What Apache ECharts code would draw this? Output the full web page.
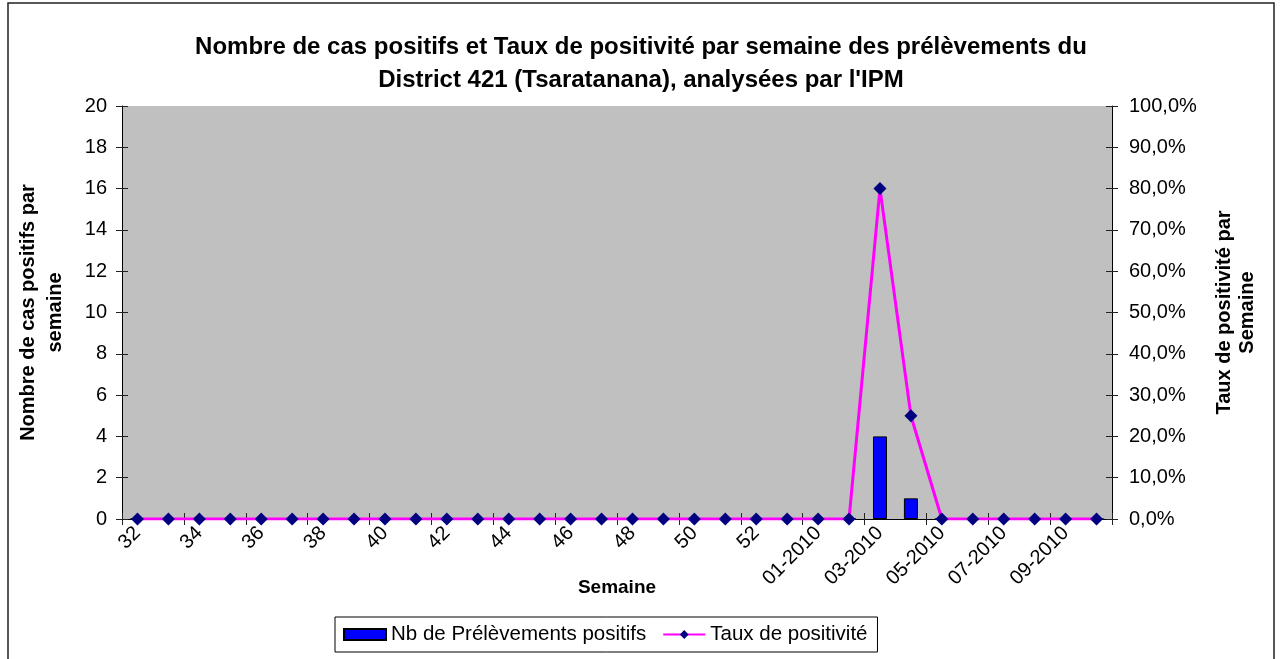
<!DOCTYPE html>
<html>
<head>
<meta charset="utf-8">
<script src="https://cdn.jsdelivr.net/npm/echarts@6/dist/echarts.min.js"></script>
<style>
html,body{margin:0;padding:0;background:#fff;}
#chart{width:1282px;height:659px;}
</style>
</head>
<body>
<div id="chart"></div>
<script>
var categories = ['32','33','34','35','36','37','38','39','40','41','42','43','44','45','46','47','48','49','50','51','52','53',
  '01-2010','02-2010','03-2010','04-2010','05-2010','06-2010','07-2010','08-2010','09-2010','10-2010'];
var positifs = [0,0,0,0,0,0,0,0,0,0,0,0,0,0,0,0,0,0,0,0,0,0,0,0,4,1,0,0,0,0,0,0];
var taux = [0,0,0,0,0,0,0,0,0,0,0,0,0,0,0,0,0,0,0,0,0,0,0,0,0.8,0.25,0,0,0,0,0,0];
var leftTicks = {min:0, max:20, interval:2};
var rightTicks = {min:0, max:1, interval:0.1};

var FONT = 'Liberation Sans, Arial, sans-serif';
var chart = echarts.init(document.getElementById('chart'));
function pct(v){ return (v*100).toFixed(1).replace('.', ',') + '%'; }
var axisCol = '#000';
var option = {
  animation: false,
  backgroundColor: '#fff',
  textStyle: {fontFamily: FONT},
  title: {
    text: 'Nombre de cas positifs et Taux de positivité par semaine des prélèvements du\nDistrict 421 (Tsaratanana), analysées par l\'IPM',
    left: 'center', top: 26,
    textStyle: {fontFamily: FONT, fontSize: 24, fontWeight: 'bold', color: '#000', lineHeight: 33}
  },
  graphic: [{
    type: 'rect', silent: true, z: -1,
    shape: {x: 8, y: 3, width: 1266, height: 720},
    style: {fill: 'none', stroke: '#222', lineWidth: 1.5}
  }],
  legend: {
    left: 335, top: 617,
    orient: 'horizontal',
    borderColor: '#000', borderWidth: 1, borderRadius: 0,
    padding: [7, 10, 7, 8],
    itemGap: 16, itemWidth: 42, itemHeight: 11,
    textStyle: {fontFamily: FONT, fontSize: 20.5, color: '#000'},
    data: [
      {name: 'Nb de Prélèvements positifs', icon: 'rect'},
      {name: 'Taux de positivité'}
    ]
  },
  grid: {left: 122, right: 170, top: 106, bottom: 140, show: true, backgroundColor: '#c0c0c0', borderWidth: 0},
  xAxis: [{
    type: 'category', data: categories, boundaryGap: true, position: 'bottom',
    name: 'Semaine', nameLocation: 'middle', nameGap: 59, nameMoveOverlap: false,
    nameTextStyle: {fontFamily: FONT, fontSize: 19, fontWeight: 'bold', color: '#000'},
    axisLine: {lineStyle: {color: axisCol, width: 1}},
    axisTick: {show: true, inside: false, length: 6, lineStyle: {color: '#222'}},
    axisLabel: {interval: 1, rotate: 45, fontFamily: FONT, fontSize: 20, color: '#000', margin: 11},
    splitLine: {show: false}
  }, {
    type: 'category', data: categories, boundaryGap: true, position: 'bottom',
    axisLine: {show: false},
    axisTick: {show: true, inside: true, length: 6, lineStyle: {color: '#222'}},
    axisLabel: {show: false}, splitLine: {show: false}
  }],
  yAxis: [{
    type: 'value', position: 'left', min: leftTicks.min, max: leftTicks.max, interval: leftTicks.interval,
    name: 'Nombre de cas positifs par\nsemaine', nameLocation: 'middle', nameRotate: 90, nameGap: 53, nameMoveOverlap: false,
    nameTextStyle: {fontFamily: FONT, fontSize: 20, fontWeight: 'bold', color: '#000', lineHeight: 27},
    axisLine: {show: true, lineStyle: {color: axisCol}},
    axisTick: {show: true, length: 6, lineStyle: {color: '#222'}},
    axisLabel: {fontFamily: FONT, fontSize: 20, color: '#000', margin: 15},
    splitLine: {show: false}
  }, {
    type: 'value', position: 'right', min: rightTicks.min, max: rightTicks.max, interval: rightTicks.interval,
    name: 'Taux de positivité par\nSemaine', nameLocation: 'middle', nameRotate: 90, nameGap: 101, nameMoveOverlap: false,
    nameTextStyle: {fontFamily: FONT, fontSize: 20, fontWeight: 'bold', color: '#000', lineHeight: 23},
    axisLine: {show: true, lineStyle: {color: axisCol}},
    axisTick: {show: true, length: 6, lineStyle: {color: '#222'}},
    axisLabel: {fontFamily: FONT, fontSize: 20, color: '#000', margin: 17, formatter: pct},
    splitLine: {show: false}
  }, {
    type: 'value', position: 'left', min: leftTicks.min, max: leftTicks.max, interval: leftTicks.interval,
    axisLine: {show: false}, axisTick: {show: true, inside: true, length: 6, lineStyle: {color: '#222'}},
    axisLabel: {show: false}, splitLine: {show: false}
  }, {
    type: 'value', position: 'right', min: rightTicks.min, max: rightTicks.max, interval: rightTicks.interval,
    axisLine: {show: false}, axisTick: {show: true, inside: true, length: 6, lineStyle: {color: '#222'}},
    axisLabel: {show: false}, splitLine: {show: false}
  }],
  series: [{
    name: 'Nb de Prélèvements positifs', type: 'bar', xAxisIndex: 0, yAxisIndex: 0,
    data: positifs, barWidth: 14,
    itemStyle: {color: '#0000ff', borderColor: '#000', borderWidth: 1}
  }, {
    name: 'Taux de positivité', type: 'line', xAxisIndex: 0, yAxisIndex: 1,
    data: taux, symbol: 'diamond', symbolSize: [13, 13], showSymbol: true,
    lineStyle: {color: '#ff00ff', width: 3},
    itemStyle: {color: '#000080', borderWidth: 0},
    z: 3
  }]
};
chart.setOption(option);
</script>
</body>
</html>
